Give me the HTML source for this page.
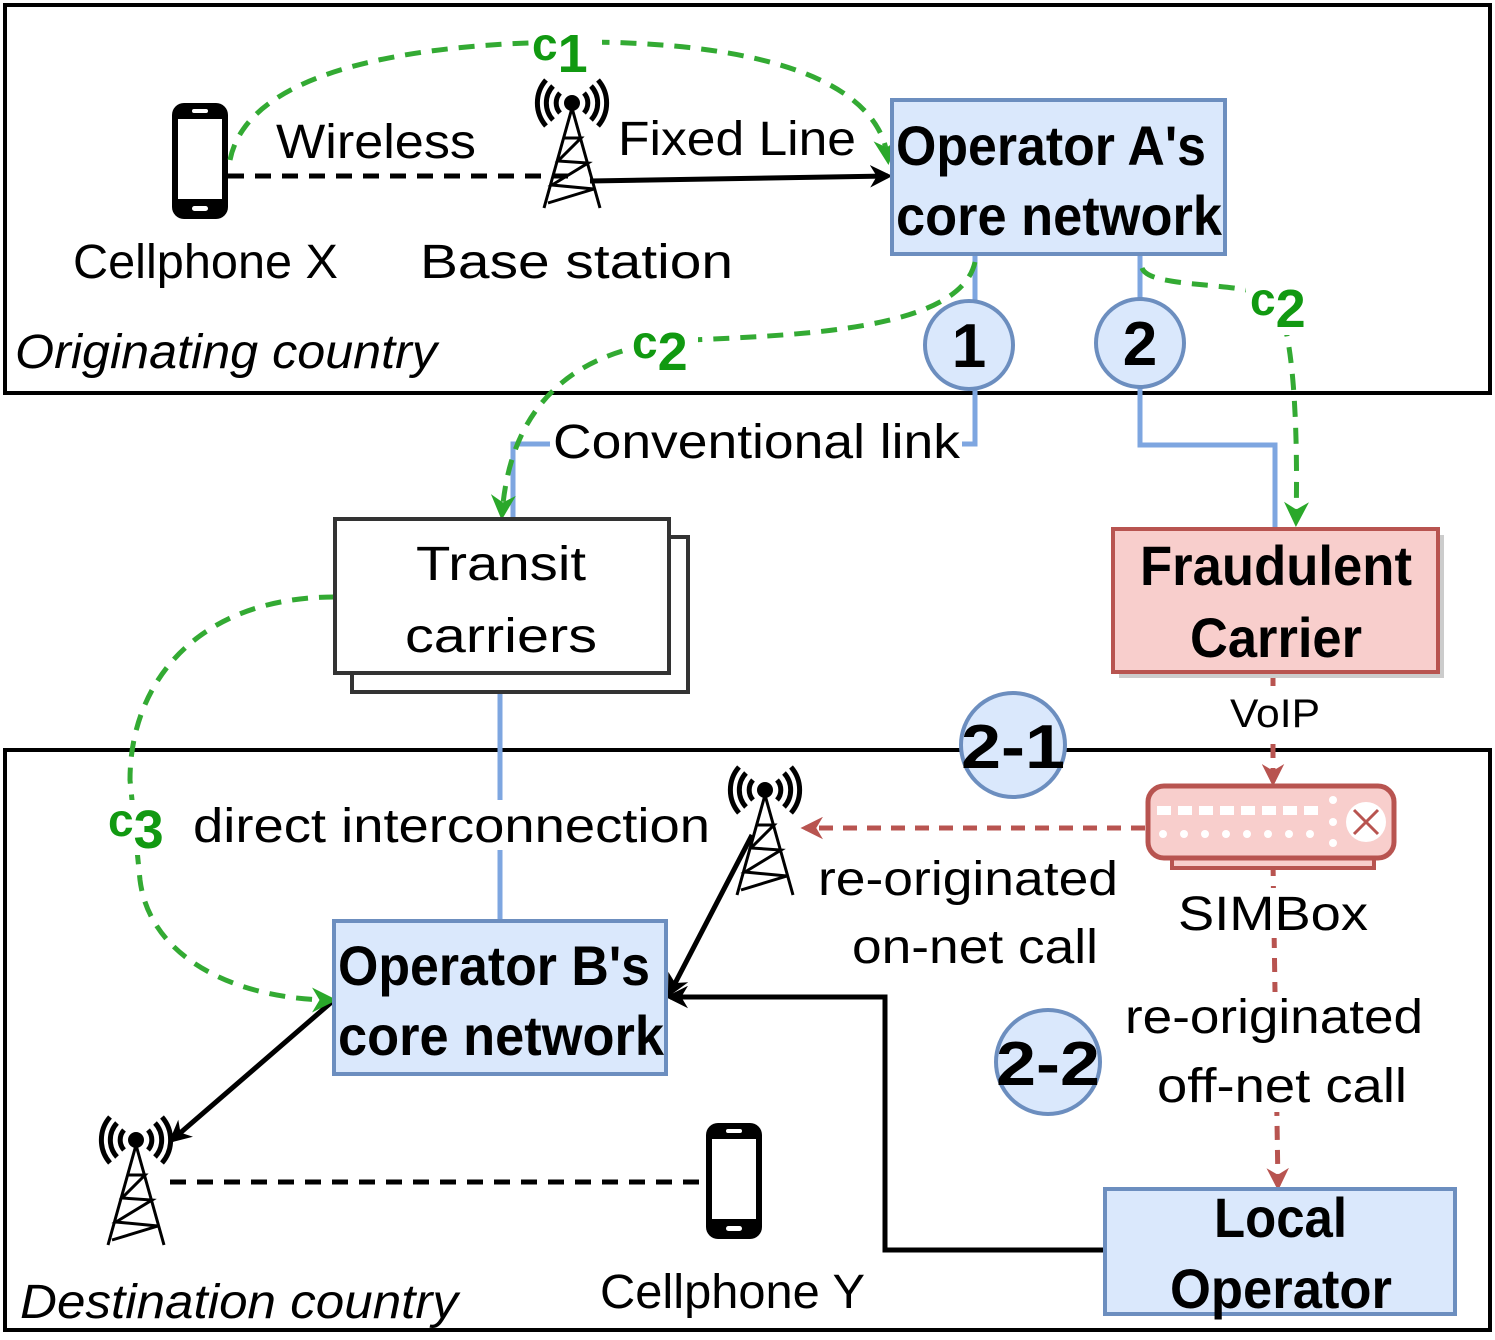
<!DOCTYPE html>
<html><head><style>body{margin:0;background:#fff}svg{display:block}text{font-family:"Liberation Sans",sans-serif}</style></head>
<body>
<svg width="1495" height="1340" viewBox="0 0 1495 1340" xmlns="http://www.w3.org/2000/svg">
<defs>
<marker id="ak" viewBox="0 0 10 10" refX="8" refY="5" markerWidth="4.5" markerHeight="4.5" orient="auto"><path d="M0,0 L10,5 L0,10 L3,5z" fill="#000"/></marker>
<marker id="ag" viewBox="0 0 10 10" refX="8" refY="5" markerWidth="5" markerHeight="5" orient="auto"><path d="M0,0 L10,5 L0,10 L3,5z" fill="#2aa82a"/></marker>
<marker id="ar" viewBox="0 0 10 10" refX="8" refY="5" markerWidth="4.5" markerHeight="4.5" orient="auto"><path d="M0,0 L10,5 L0,10 L3,5z" fill="#b85450"/></marker>
<g id="tower" fill="none" stroke="#000">
<path d="M0,5 L-28,105 M0,5 L28,105 M-8,35 L9,35 L-14,58 L16,60 L-20,82 L22,86 L-24,100" stroke-width="3"/>
<circle cx="0" cy="0" r="8" fill="#000" stroke="none"/>
<path d="M-12,-10 A15,15 0 0 0 -12,10 M12,-10 A15,15 0 0 1 12,10 M-19,-17 A25,25 0 0 0 -19,17 M19,-17 A25,25 0 0 1 19,17 M-26,-23 A35,35 0 0 0 -26,23 M26,-23 A35,35 0 0 1 26,23" stroke-width="5"/>
</g>
<g id="phone"><rect x="0" y="0" width="56" height="116" rx="12" fill="#000"/><rect x="6" y="16" width="44" height="80" fill="#fff"/><rect x="20" y="6" width="16" height="4" rx="2" fill="#fff"/><rect x="20" y="103" width="16" height="5" rx="2.5" fill="#fff"/></g>
</defs>

<rect x="5" y="5" width="1485" height="388" fill="none" stroke="#000" stroke-width="4"/>
<rect x="5" y="750" width="1485" height="580" fill="none" stroke="#000" stroke-width="4"/>

<g stroke="#7ea6e0" stroke-width="5" fill="none">
<path d="M975,254 V301 M975,389 V444 H513 V519"/>
<path d="M1140,254 V299 M1140,387 V445 H1275 V529"/>
<path d="M500,673 V921"/>
</g>

<path d="M228,176 H575" stroke="#000" stroke-width="5" stroke-dasharray="16,11"/>
<path d="M170,1182 H705" stroke="#000" stroke-width="5" stroke-dasharray="16,11"/>
<path d="M590,181 L888,176" stroke="#000" stroke-width="5" marker-end="url(#ak)"/>
<path d="M752,835 L670,993" stroke="#000" stroke-width="5" marker-end="url(#ak)"/>
<path d="M1105,1250 H885 V997 H670" stroke="#000" stroke-width="5" fill="none" marker-end="url(#ak)"/>
<path d="M334,1000 L172,1140" stroke="#000" stroke-width="5" marker-end="url(#ak)"/>

<use href="#tower" x="572" y="103"/>
<use href="#tower" x="765" y="790"/>
<use href="#tower" x="136" y="1140"/>
<use href="#phone" x="172" y="103"/>
<use href="#phone" x="706" y="1123"/>

<g stroke="#b85450" stroke-width="5" fill="none" stroke-dasharray="14,10">
<path d="M1273,672 V782" marker-end="url(#ar)"/>
<path d="M1145,828 H805" marker-end="url(#ar)"/>
<path d="M1273,862 L1278,1186" marker-end="url(#ar)"/>
</g>

<g stroke="#33aa33" stroke-width="5" fill="none" stroke-dasharray="16,11">
<path d="M230,160 C250,60 450,42 580,42 C760,42 880,80 888,160" marker-end="url(#ag)"/>
<path d="M975,262 C960,330 800,335 690,340 C580,345 510,400 502,515" marker-end="url(#ag)"/>
<path d="M1142,268 C1150,290 1250,280 1275,300 C1295,330 1298,440 1296,522" marker-end="url(#ag)"/>
<path d="M335,597 C200,597 130,680 130,780 L140,880 C150,960 240,1000 332,1000" marker-end="url(#ag)"/>
</g>

<rect x="892" y="100" width="333" height="154" fill="#dae8fc" stroke="#6c8ebf" stroke-width="4"/>
<rect x="352" y="537" width="336" height="155" fill="#fff" stroke="#333" stroke-width="4"/>
<rect x="335" y="519" width="334" height="154" fill="#fff" stroke="#333" stroke-width="4"/>
<rect x="1119" y="535" width="325" height="143" fill="#ccc"/>
<rect x="1113" y="529" width="325" height="143" fill="#f8cecc" stroke="#b85450" stroke-width="4"/>
<rect x="334" y="921" width="332" height="153" fill="#dae8fc" stroke="#6c8ebf" stroke-width="4"/>
<rect x="1105" y="1189" width="350" height="125" fill="#dae8fc" stroke="#6c8ebf" stroke-width="4"/>

<g fill="#dae8fc" stroke="#6c8ebf" stroke-width="4">
<circle cx="969" cy="345" r="44"/><circle cx="1140" cy="343" r="44"/>
<circle cx="1013" cy="745" r="52"/><circle cx="1048" cy="1062" r="52"/>
</g>

<rect x="1172" y="854" width="202" height="14" fill="#f8cecc" stroke="#b85450" stroke-width="4"/>
<rect x="1148" y="786" width="246" height="72" rx="16" fill="#f8cecc" stroke="#b85450" stroke-width="5"/>
<g fill="#fff">
<rect x="1157" y="806" width="14" height="9"/><rect x="1178" y="806" width="14" height="9"/><rect x="1199" y="806" width="14" height="9"/><rect x="1220" y="806" width="14" height="9"/><rect x="1241" y="806" width="14" height="9"/><rect x="1262" y="806" width="14" height="9"/><rect x="1283" y="806" width="14" height="9"/><rect x="1304" y="806" width="14" height="9"/>
<circle cx="1163" cy="834" r="4"/><circle cx="1184" cy="834" r="4"/><circle cx="1205" cy="834" r="4"/><circle cx="1226" cy="834" r="4"/><circle cx="1247" cy="834" r="4"/><circle cx="1268" cy="834" r="4"/><circle cx="1289" cy="834" r="4"/><circle cx="1310" cy="834" r="4"/>
<circle cx="1333" cy="800" r="4"/><circle cx="1333" cy="822" r="4"/><circle cx="1333" cy="843" r="4"/>
<ellipse cx="1366" cy="822" rx="20" ry="20"/>
</g>
<path d="M1354,810 L1378,834 M1378,810 L1354,834" stroke="#b85450" stroke-width="3"/>

<rect x="550" y="420" width="412" height="44" fill="#fff"/>
<rect x="1225" y="695" width="100" height="42" fill="#fff"/>
<rect x="190" y="800" width="525" height="50" fill="#fff"/>
<rect x="1175" y="888" width="196" height="50" fill="#fff"/>
<rect x="1120" y="992" width="310" height="120" fill="#fff"/>
<rect x="532" y="28" width="70" height="50" fill="#fff"/>
<rect x="628" y="320" width="70" height="55" fill="#fff"/>
<rect x="1246" y="280" width="70" height="55" fill="#fff"/>
<rect x="105" y="800" width="70" height="55" fill="#fff"/>

<g font-size="48" fill="#000">
<text x="276" y="158" textLength="200" lengthAdjust="spacingAndGlyphs">Wireless</text>
<text x="618" y="155" textLength="238" lengthAdjust="spacingAndGlyphs">Fixed Line</text>
<text x="73" y="278" textLength="265" lengthAdjust="spacingAndGlyphs">Cellphone X</text>
<text x="420" y="278" textLength="313" lengthAdjust="spacingAndGlyphs">Base station</text>
<text x="15" y="368" font-style="italic" textLength="422" lengthAdjust="spacingAndGlyphs">Originating country</text>
<text x="553" y="458" textLength="407" lengthAdjust="spacingAndGlyphs">Conventional link</text>
<text x="416" y="580" textLength="170" lengthAdjust="spacingAndGlyphs">Transit</text>
<text x="405" y="652" textLength="192" lengthAdjust="spacingAndGlyphs">carriers</text>
<text x="193" y="842" textLength="517" lengthAdjust="spacingAndGlyphs">direct interconnection</text>
<text x="818" y="895" textLength="300" lengthAdjust="spacingAndGlyphs">re-originated</text>
<text x="852" y="963" textLength="246" lengthAdjust="spacingAndGlyphs">on-net call</text>
<text x="1178" y="930" textLength="190" lengthAdjust="spacingAndGlyphs">SIMBox</text>
<text x="1125" y="1033" textLength="298" lengthAdjust="spacingAndGlyphs">re-originated</text>
<text x="1157" y="1102" textLength="250" lengthAdjust="spacingAndGlyphs">off-net call</text>
<text x="20" y="1318" font-style="italic" textLength="438" lengthAdjust="spacingAndGlyphs">Destination country</text>
<text x="600" y="1308" textLength="265" lengthAdjust="spacingAndGlyphs">Cellphone Y</text>
<text x="1230" y="727" font-size="40" textLength="90" lengthAdjust="spacingAndGlyphs">VoIP</text>
</g>
<g font-size="56" font-weight="bold" fill="#000">
<text x="896" y="165" textLength="310" lengthAdjust="spacingAndGlyphs">Operator A's</text>
<text x="896" y="235" textLength="326" lengthAdjust="spacingAndGlyphs">core network</text>
<text x="1140" y="585" textLength="272" lengthAdjust="spacingAndGlyphs">Fraudulent</text>
<text x="1190" y="657" textLength="172" lengthAdjust="spacingAndGlyphs">Carrier</text>
<text x="338" y="985" textLength="312" lengthAdjust="spacingAndGlyphs">Operator B's</text>
<text x="338" y="1055" textLength="326" lengthAdjust="spacingAndGlyphs">core network</text>
<text x="1214" y="1237" textLength="133" lengthAdjust="spacingAndGlyphs">Local</text>
<text x="1170" y="1308" textLength="222" lengthAdjust="spacingAndGlyphs">Operator</text>
<text x="969" y="367" text-anchor="middle" font-size="62">1</text>
<text x="1140" y="365" text-anchor="middle" font-size="62">2</text>
<text x="1013" y="768" text-anchor="middle" font-size="62" textLength="104" lengthAdjust="spacingAndGlyphs">2-1</text>
<text x="1048" y="1085" text-anchor="middle" font-size="62" textLength="104" lengthAdjust="spacingAndGlyphs">2-2</text>
</g>
<g font-weight="bold" fill="#119911">
<text x="532" y="60" font-size="46">c<tspan font-size="54" dy="12">1</tspan></text>
<text x="632" y="358" font-size="46">c<tspan font-size="54" dy="12">2</tspan></text>
<text x="1250" y="315" font-size="46">c<tspan font-size="54" dy="12">2</tspan></text>
<text x="108" y="836" font-size="46">c<tspan font-size="54" dy="12">3</tspan></text>
</g>
</svg>
</body></html>
